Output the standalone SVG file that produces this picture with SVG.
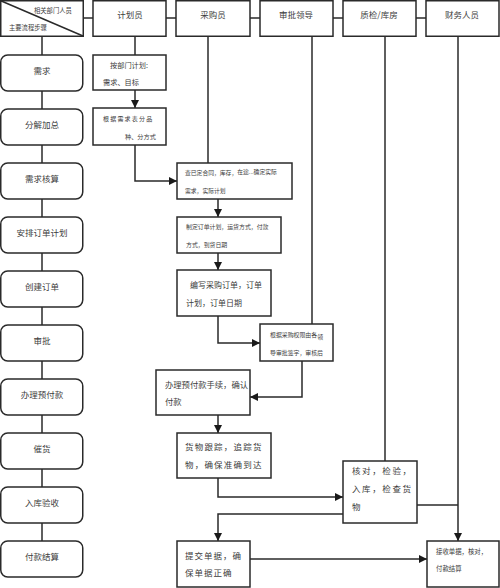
<svg xmlns="http://www.w3.org/2000/svg" width="500" height="588" viewBox="0 0 500 588">
<style>
text{font-family:"Noto Sans CJK SC","Noto Sans",sans-serif;fill:#3c3c3c}
.box{fill:#fff;stroke:#2a2a2a;stroke-width:1.5}
.ln{fill:none;stroke:#2a2a2a;stroke-width:1.5}
.hd{font-size:8.5px;text-anchor:middle}
.st{font-size:8.5px;text-anchor:middle}
</style>
<defs>
<marker id="ar" markerUnits="userSpaceOnUse" markerWidth="8" markerHeight="8" refX="8" refY="4" orient="auto">
<path d="M0,0 L8,4 L0,8 z" fill="#1a1a1a"/>
</marker>
</defs>
<rect width="500" height="588" fill="#fff"/>
<g id="connectors">
<path class="ln" d="M83,18 H93 M166,18 H176 M250,18 H260 M333,18 H343 M416,18 H426"/>
<path class="ln" d="M42,36 V541"/>
<path class="ln" d="M135,36 V55"/>
<path class="ln" d="M135,90 V108" marker-end="url(#ar)"/>
<path class="ln" d="M135,145 V181 H177" marker-end="url(#ar)"/>
<path class="ln" d="M208,36 V163"/>
<path class="ln" d="M218,199 V217" marker-end="url(#ar)"/>
<path class="ln" d="M218,253 V270" marker-end="url(#ar)"/>
<path class="ln" d="M218,316 V343 H260" marker-end="url(#ar)"/>
<path class="ln" d="M312,36 V324"/>
<path class="ln" d="M302,361 V397 H250" marker-end="url(#ar)"/>
<path class="ln" d="M218,415 V433" marker-end="url(#ar)"/>
<path class="ln" d="M218,478 V497 H343" marker-end="url(#ar)"/>
<path class="ln" d="M385,36 V461"/>
<path class="ln" d="M343,514 H218 V541" marker-end="url(#ar)"/>
<path class="ln" d="M250,559 H427" marker-end="url(#ar)"/>
<path class="ln" d="M458,36 V541" marker-end="url(#ar)"/>
<path class="ln" d="M417,505 H458"/>
</g>
<g id="header-corner">
<rect class="box" x="0.75" y="0.75" width="82.5" height="35.5"/>
<path class="ln" d="M0.75,0.75 L83,36"/>
<text x="34" y="12.5" style="font-size:6.3px">相关部门人员</text>
<text x="9" y="29.5" style="font-size:6.3px">主要流程步骤</text>
</g>
<g id="lane-planner"><rect class="box" x="93" y="0.75" width="73" height="35.5"/><text class="hd" x="130" y="18">计划员</text></g>
<g id="lane-buyer"><rect class="box" x="176" y="0.75" width="74" height="35.5"/><text class="hd" x="213" y="18">采购员</text></g>
<g id="lane-approver"><rect class="box" x="260" y="0.75" width="73" height="35.5"/><text class="hd" x="296" y="18">审批领导</text></g>
<g id="lane-qc"><rect class="box" x="343" y="0.75" width="73" height="35.5"/><text class="hd" x="379" y="18">质检/库房</text></g>
<g id="lane-finance"><rect class="box" x="426" y="0.75" width="73" height="35.5"/><text class="hd" x="462" y="18">财务人员</text></g>

<g id="step-1"><rect class="box" x="0.75" y="55" width="82" height="36" rx="7"/><text class="st" x="42" y="73.5">需求</text></g>
<g id="step-2"><rect class="box" x="0.75" y="109" width="82" height="36" rx="7"/><text class="st" x="42" y="127.5">分解加总</text></g>
<g id="step-3"><rect class="box" x="0.75" y="163" width="82" height="36" rx="7"/><text class="st" x="42" y="181.5">需求核算</text></g>
<g id="step-4"><rect class="box" x="0.75" y="217" width="82" height="36" rx="7"/><text class="st" x="42" y="235.5">安排订单计划</text></g>
<g id="step-5"><rect class="box" x="0.75" y="271" width="82" height="36" rx="7"/><text class="st" x="42" y="289.5">创建订单</text></g>
<g id="step-6"><rect class="box" x="0.75" y="325" width="82" height="36" rx="7"/><text class="st" x="42" y="343.5">审批</text></g>
<g id="step-7"><rect class="box" x="0.75" y="379" width="82" height="36" rx="7"/><text class="st" x="42" y="397.5">办理预付款</text></g>
<g id="step-8"><rect class="box" x="0.75" y="433" width="82" height="36" rx="7"/><text class="st" x="42" y="451.5">催货</text></g>
<g id="step-9"><rect class="box" x="0.75" y="487" width="82" height="36" rx="7"/><text class="st" x="42" y="505.5">入库验收</text></g>
<g id="step-10"><rect class="box" x="0.75" y="541" width="82" height="36" rx="7"/><text class="st" x="42" y="559.5">付款结算</text></g>

<g id="box-plan">
<rect class="box" x="93" y="55" width="73" height="35"/>
<text x="110" y="68" style="font-size:7.2px">按部门计划:</text>
<text x="103" y="85" style="font-size:7.2px">需求、目标</text>
</g>
<g id="box-split">
<rect class="box" x="93" y="108" width="73" height="37"/>
<text x="103" y="121" style="font-size:6px;letter-spacing:1.2px">根据需求表分品</text>
<text x="125" y="138.5" style="font-size:6.2px">种、分方式</text>
</g>
<g id="box-check">
<rect class="box" x="177" y="163" width="115" height="36"/>
<text x="185" y="175" style="font-size:5.8px">查已定合同，库存，<tspan dy="-1.5">在途...确定实际</tspan></text>
<text x="185" y="193" style="font-size:5.8px">需求，实际计划</text>
</g>
<g id="box-orderplan">
<rect class="box" x="177" y="217" width="104" height="36"/>
<text x="186" y="229" style="font-size:5.9px">制定订单计划，运货方式，付款</text>
<text x="186" y="247" style="font-size:5.9px">方式，到货日期</text>
</g>
<g id="box-order">
<rect class="box" x="177" y="270" width="94" height="46"/>
<text x="190" y="288" style="font-size:8px">编写采购订单，订单</text>
<text x="186" y="306" style="font-size:8px">计划，订单日期</text>
</g>
<g id="box-approve">
<rect class="box" x="260" y="324" width="73" height="37"/>
<text x="270" y="337" style="font-size:5.9px">根据采购权限由各<tspan dy="1.5">领</tspan></text>
<text x="270" y="355" style="font-size:5.9px">导审批签字，审核后</text>
</g>
<g id="box-prepay">
<rect class="box" x="156" y="370" width="94" height="45"/>
<text x="165" y="388" style="font-size:8.3px">办理预付款手续，确认</text>
<text x="165" y="405" style="font-size:8.3px">付款</text>
</g>
<g id="box-track">
<rect class="box" x="177" y="433" width="94" height="45"/>
<text x="185" y="450" style="font-size:8.5px;letter-spacing:1.2px">货物跟踪，追踪货</text>
<text x="185" y="468" style="font-size:8.5px;letter-spacing:1.2px">物，确保准确到达</text>
</g>
<g id="box-inspect">
<rect class="box" x="343" y="461" width="74" height="62"/>
<text x="352" y="474" style="font-size:8.5px;letter-spacing:1.6px">核对，检验，</text>
<text x="352" y="492" style="font-size:8.5px;letter-spacing:1.6px">入库，检查货</text>
<text x="352" y="510" style="font-size:8.5px">物</text>
</g>
<g id="box-submit">
<rect class="box" x="177" y="541" width="73" height="46"/>
<text x="185" y="559" style="font-size:8.5px;letter-spacing:1px">提交单据，确</text>
<text x="185" y="576" style="font-size:8.5px;letter-spacing:1px">保单据正确</text>
</g>
<g id="box-settle">
<rect class="box" x="427" y="541" width="72" height="46"/>
<text x="436" y="553.5" style="font-size:6.4px">接收单据，核对，</text>
<text x="436" y="570.5" style="font-size:6.4px">付款结算</text>
</g>
</svg>
